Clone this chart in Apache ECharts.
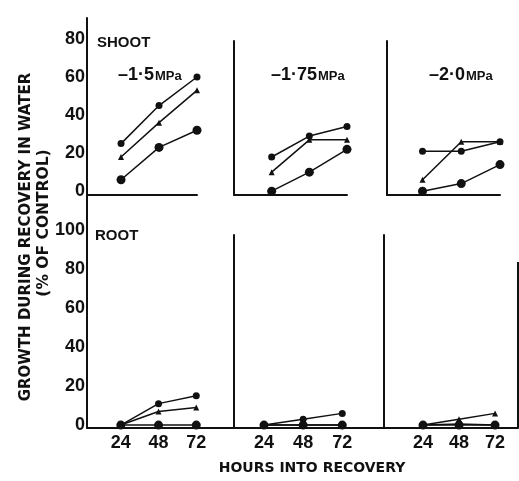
<!DOCTYPE html>
<html>
<head>
<meta charset="utf-8">
<script src="https://cdn.jsdelivr.net/npm/echarts@6/dist/echarts.min.js"></script>
<style>
  html, body { margin: 0; padding: 0; background: #fff; }
  #chart { width: 519px; height: 481px; }
</style>
</head>
<body>
<div id="chart"></div>
<script>
// hours into recovery
const hours = [24, 48, 72];
const pressures = ["–1·5", "–1·75", "–2·0"];

// shoot growth (% of control)
const shootSquare15 = [25, 45, 60];
const shootTri15 = [18, 36, 53];
const shootDot15 = [6, 23, 32];
const shootSquare175 = [18, 29, 34];
const shootTri175 = [10, 27, 27];
const shootDot175 = [0, 10, 22];
const shootSquare20 = [21, 21, 26];
const shootTri20 = [6, 26, 26];
const shootDot20 = [0, 4, 14];

// root growth (% of control)
const rootSquare15 = [0, 11, 15];
const rootTri15 = [0, 7, 9];
const rootDot15 = [0, 0, 0];
const rootSquare175 = [0, 3, 6];
const rootTri175 = [0, 0, 0];
const rootDot175 = [0, 0, 0];
const rootSquare20 = [0, 0.5, 0];
const rootTri20 = [0, 3, 6];
const rootDot20 = [0, 0, 0];

const shootTicks = [0, 20, 40, 60, 80];
const rootTicks = [0, 20, 40, 60, 80, 100];

const chart = echarts.init(document.getElementById("chart"));
const ink = "#111";
const numFont = { color: ink, fontFamily: "Liberation Sans", fontWeight: "bold", fontSize: 18 };

const grids = [
    { left: 87, top: 18, width: 110, height: 177 },
    { left: 234, top: 41, width: 113, height: 154 },
    { left: 387, top: 41, width: 113, height: 154 },
    { left: 87, top: 195, width: 147, height: 233 },
    { left: 234, top: 235, width: 150, height: 193 },
    { left: 384, top: 235, width: 134, height: 193 }
];
const xRanges = [[2.5, 72], [0, 72], [2, 72], [2.5, 96], [5.6, 97.6], [-2, 87.3]];
const yRanges = [[-2, 91], [-2, 79], [-2, 79], [-1.5, 118], [-1.5, 97.5], [-1.5, 97.5]];

const xAxes = grids.map((g, i) => ({
    type: "value", gridIndex: i, min: xRanges[i][0], max: xRanges[i][1],
    axisLine: { onZero: false, lineStyle: { color: ink, width: 2 } },
    axisTick: { show: false },
    splitLine: { show: false },
    axisLabel: i >= 3
        ? Object.assign({ customValues: hours, margin: 6 }, numFont)
        : { show: false }
}));

const yAxes = grids.map((g, i) => ({
    type: "value", gridIndex: i, min: yRanges[i][0], max: yRanges[i][1],
    axisLine: { show: true, onZero: false, lineStyle: { color: ink, width: 2 } },
    axisTick: { show: false },
    splitLine: { show: false },
    axisLabel: i === 0 || i === 3
        ? Object.assign({ customValues: i === 0 ? shootTicks : rootTicks, margin: 2 }, numFont)
        : { show: false }
}));

const panelData = [
    [shootSquare15, shootTri15, shootDot15],
    [shootSquare175, shootTri175, shootDot175],
    [shootSquare20, shootTri20, shootDot20],
    [rootSquare15, rootTri15, rootDot15],
    [rootSquare175, rootTri175, rootDot175],
    [rootSquare20, rootTri20, rootDot20]
];
const marks = [
    { symbol: "circle", size: 7 },
    { symbol: "triangle", size: 6 },
    { symbol: "circle", size: 9 }
];

const series = [];
panelData.forEach((sets, i) => {
    sets.forEach((vals, k) => {
        series.push({
            type: "line",
            xAxisIndex: i, yAxisIndex: i,
            data: hours.map((h, j) => [h, vals[j]]),
            symbol: marks[k].symbol,
            symbolSize: marks[k].size,
            showAllSymbol: true,
            clip: false,
            itemStyle: { color: ink },
            lineStyle: { color: ink, width: 1.5 },
            emphasis: { disabled: true }
        });
    });
});

const titleLeft = [113, 266, 424];
const titles = pressures.map((p, i) => ({
    text: "{a|" + p + "}{b|MPa}",
    left: titleLeft[i], top: 61,
    textStyle: {
        rich: {
            a: { fontFamily: "Liberation Sans", fontWeight: "bold", fontSize: 18, color: ink },
            b: { fontFamily: "Liberation Sans", fontWeight: "bold", fontSize: 13, color: ink, padding: [3, 0, 0, 1] }
        }
    }
}));
titles.push(
    { text: "SHOOT", left: 92, top: 30, textStyle: { fontFamily: "Liberation Sans", fontWeight: "bold", fontSize: 15, color: ink } },
    { text: "ROOT", left: 90, top: 223, textStyle: { fontFamily: "Liberation Sans", fontWeight: "bold", fontSize: 15, color: ink } }
);

const labelFont = { fontFamily: "DejaVu Sans", fontWeight: "bold", fill: ink };

chart.setOption({
    animation: false,
    title: titles,
    grid: grids,
    xAxis: xAxes,
    yAxis: yAxes,
    series: series,
    graphic: [
        { type: "line", shape: { x1: 518, y1: 262, x2: 518, y2: 428 }, style: { stroke: ink, lineWidth: 2 } },
        { type: "text", x: 26, y: 237, rotation: Math.PI / 2,
          style: Object.assign({ text: "GROWTH DURING RECOVERY IN WATER", align: "center", verticalAlign: "middle", fontSize: 15 }, labelFont) },
        { type: "text", x: 44, y: 223, rotation: Math.PI / 2,
          style: Object.assign({ text: "(% OF CONTROL)", align: "center", verticalAlign: "middle", fontSize: 15.5 }, labelFont) },
        { type: "text", x: 312, y: 468,
          style: Object.assign({ text: "HOURS INTO RECOVERY", align: "center", verticalAlign: "middle", fontSize: 14 }, labelFont) }
    ]
});
</script>
</body>
</html>
